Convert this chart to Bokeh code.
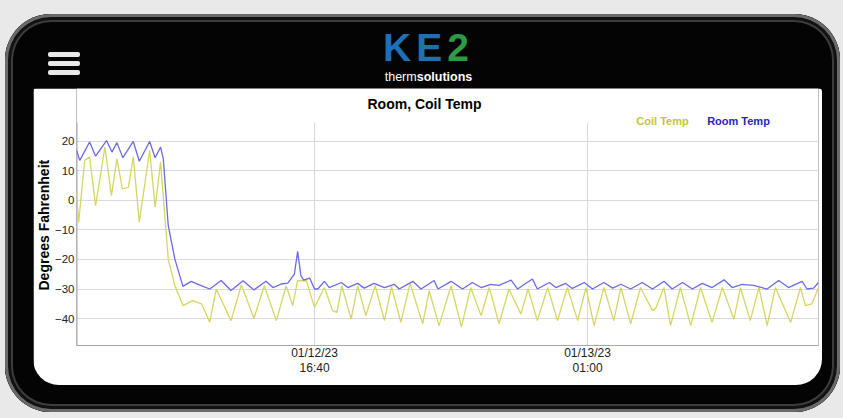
import pandas as pd
from bokeh.plotting import figure
from bokeh.models import Range1d, FixedTicker, Label, Div, Title, Spacer
from bokeh.layouts import column, row
from bokeh.embed import file_html
from bokeh.resources import INLINE

# ---------------- data ----------------
start_time = "2023-01-12 09:24"      # left edge of the plot
end_minute = 1359                    # right edge, minutes after start

room_minutes = [0, 6, 24, 35, 55, 65, 74, 85, 104, 115, 134, 144, 154, 159, 168, 180,
                195, 210, 225, 244, 265, 283, 305, 325, 347, 360, 375, 387, 399, 405,
                411, 416, 427, 436, 442, 454, 463, 485, 497, 515, 527, 545, 564, 582,
                591, 616, 631, 655, 662, 686, 707, 725, 741, 759, 774, 796, 808, 817,
                835, 844, 866, 878, 896, 908, 930, 945, 966, 982, 997, 1015, 1036,
                1055, 1076, 1091, 1110, 1128, 1146, 1164, 1186, 1201, 1219, 1240,
                1265, 1286, 1304, 1329, 1338, 1350, 1359]
room_temp = [16.9, 13.5, 19.7, 14.9, 20.2, 16.3, 19.5, 14.4, 19.9, 13.2, 19.9, 14.4,
             18.0, 14.0, -8.5, -19.8, -29.1, -27.4, -28.6, -30.0, -27.1, -30.5, -27.2,
             -30.3, -27.4, -29.5, -28.3, -28.0, -25.0, -17.3, -25.5, -27.0, -26.3,
             -30.0, -30.0, -27.4, -29.5, -27.8, -29.5, -28.1, -29.7, -28.1, -29.5,
             -28.4, -30.0, -27.4, -30.0, -27.1, -30.0, -27.4, -30.0, -27.8, -29.5,
             -28.4, -28.8, -27.0, -30.0, -28.8, -26.6, -30.0, -27.8, -29.5, -28.1,
             -29.8, -27.8, -30.0, -27.8, -29.7, -28.4, -30.0, -27.8, -30.0, -27.4,
             -30.0, -27.8, -30.0, -28.1, -29.5, -26.9, -29.5, -28.4, -28.8, -30.0,
             -27.1, -29.5, -27.4, -30.0, -29.7, -27.8]

coil_minutes = [0, 4, 15, 24, 35, 52, 64, 74, 84, 95, 104, 115, 134, 144, 154, 168,
                180, 195, 213, 229, 244, 256, 283, 302, 325, 344, 366, 384, 396, 405,
                421, 436, 454, 469, 477, 486, 503, 515, 530, 547, 564, 577, 594, 611,
                634, 646, 664, 686, 705, 722, 741, 756, 774, 792, 814, 827, 844, 863,
                881, 899, 918, 933, 948, 966, 984, 997, 1015, 1033, 1055, 1061, 1076,
                1088, 1106, 1125, 1143, 1164, 1183, 1204, 1216, 1234, 1250, 1265,
                1280, 1308, 1326, 1335, 1347, 1359]
coil_temp = [2.7, -7.4, 13.5, 14.6, -1.8, 18.0, 1.6, 14.0, 3.9, 4.4, 14.6, -7.4, 16.9,
             -2.3, 12.9, -19.8, -28.8, -35.6, -33.9, -35.0, -41.2, -30.0, -40.7, -28.6,
             -39.9, -28.9, -40.7, -28.9, -35.6, -27.2, -27.2, -36.2, -29.5, -37.3,
             -37.9, -28.9, -40.2, -28.9, -39.0, -28.9, -40.7, -29.2, -41.3, -28.1,
             -41.8, -30.6, -42.4, -28.9, -42.8, -29.5, -39.0, -29.5, -41.8, -30.0,
             -38.5, -30.0, -40.7, -29.5, -40.7, -29.5, -40.7, -29.5, -42.4, -29.5,
             -40.7, -29.5, -41.8, -29.5, -37.3, -36.5, -29.5, -42.4, -29.5, -42.4,
             -29.5, -41.3, -29.5, -40.2, -29.5, -40.7, -29.5, -42.4, -29.5, -41.3,
             -29.5, -35.6, -35.0, -29.5]

y_ticks = [20, 10, 0, -10, -20, -30, -40]
y_limits = [-49.1, 26.3]            # extent of the drawn axis / chart area
x_tick_times = ["2023-01-12 16:40", "2023-01-13 01:00"]
x_tick_labels = ["01/12/23\n16:40", "01/13/23\n01:00"]
series_names = ["Coil Temp", "Room Temp"]
title_text = "Room, Coil Temp"
y_label = "Degrees Fahrenheit"

# ---------------- styles / layout ----------------
FONT = "Liberation Sans"
COIL_LINE = "#d6d662"
ROOM_LINE = "#6a6ae4"
COIL_TEXT = "#c4c43a"
ROOM_TEXT = "#2424c8"
GRID = "#dadada"
AXIS = "#a8a8a8"
VIEW_TOP = 37.8      # headroom above the chart area, where title & legend sit

t0 = pd.Timestamp(start_time)
room_t = t0 + pd.to_timedelta(room_minutes, unit="m")
coil_t = t0 + pd.to_timedelta(coil_minutes, unit="m")
t_end = t0 + pd.Timedelta(minutes=end_minute)
tick_t = [pd.Timestamp(t) for t in x_tick_times]
tick_ms = [t.value / 1e6 for t in tick_t]

p = figure(width=789, height=297, x_axis_type="datetime",
           x_range=Range1d(t0, t_end), y_range=Range1d(y_limits[0], VIEW_TOP),
           output_backend="svg", toolbar_location=None,
           min_border_left=42, min_border_right=4, min_border_top=0,
           min_border_bottom=40, border_fill_color="white",
           background_fill_color="white")
try:
    p.title = None
except Exception:
    p.title.visible = False
p.outline_line_color = None
p.margin = (0, 0, 0, 28)
p.styles = {"border-radius": "4px 4px 26px 26px", "overflow": "hidden"}

# vertical grid lines at the two time ticks and the left axis rule,
# spanning only the chart area (not the title headroom)
p.xgrid.visible = False
p.segment(x0=tick_t, x1=tick_t, y0=[y_limits[0]] * len(tick_t),
          y1=[y_limits[1]] * len(tick_t), line_color=GRID, line_width=1)
p.segment(x0=[t0], x1=[t0], y0=[y_limits[0]], y1=[y_limits[1]],
          line_color=AXIS, line_width=2)

p.line(coil_t, coil_temp, line_color=COIL_LINE, line_width=1.3)
p.line(room_t, room_temp, line_color=ROOM_LINE, line_width=1.3)

p.xaxis.ticker = FixedTicker(ticks=tick_ms)
p.xaxis.major_label_overrides = {ms: lab for ms, lab in zip(tick_ms, x_tick_labels)}
p.yaxis.ticker = FixedTicker(ticks=y_ticks)

for ax in (p.xaxis[0], p.yaxis[0]):
    ax.major_tick_line_color = None
    ax.minor_tick_line_color = None
    ax.major_tick_out = 0
    ax.major_tick_in = 0
    ax.minor_tick_out = 0
    ax.minor_tick_in = 0
    ax.axis_label_standoff = 0
    ax.major_label_text_font = FONT
    ax.major_label_text_color = "#222222"
p.xaxis.major_label_text_font_size = "12px"
p.yaxis.major_label_text_font_size = "11.5px"
p.xaxis.axis_line_color = AXIS
p.yaxis.axis_line_color = None
p.xaxis.major_label_standoff = 0
p.xaxis.major_label_text_line_height = 1.1
p.yaxis.major_label_standoff = 2

p.ygrid.grid_line_color = GRID

p.add_layout(Title(text=y_label, align="left", offset=55, standoff=0,
                   text_font=FONT, text_font_size="14px", text_font_style="bold",
                   text_color="#000000"), "left")

p.add_layout(Label(x=348, y=242, x_units="screen", y_units="screen", text=title_text,
                   text_align="center", text_baseline="middle", text_font=FONT,
                   text_font_size="14px", text_font_style="bold", text_color="#000000"))
for name, cx, col in zip(series_names, [586, 662], [COIL_TEXT, ROOM_TEXT]):
    p.add_layout(Label(x=cx, y=225, x_units="screen", y_units="screen", text=name,
                       text_align="center", text_baseline="middle", text_font=FONT,
                       text_font_size="11px", text_font_style="bold", text_color=col))

# ---------------- phone header ----------------
bar = ("position:absolute;left:43px;width:32px;height:5px;background:#e8e8e8;"
       "border-radius:2px;")
header_html = f"""
<div style="position:relative;width:835px;height:74px;">
  <div style="{bar}top:38px;"></div>
  <div style="{bar}top:47px;"></div>
  <div style="{bar}top:56px;"></div>
  <div style="position:absolute;left:374px;top:19px;width:99px;height:30px;text-align:center;
       font-family:'Liberation Sans',Arial;font-weight:bold;font-size:39px;line-height:30px;
       letter-spacing:5px;"><span style="color:#1d6fb6">KE</span><span style="color:#2c9a46">2</span></div>
  <div style="position:absolute;left:374px;top:57px;width:99px;height:13px;text-align:center;
       font-family:'Liberation Sans',Arial;font-size:12.5px;line-height:13px;color:#ffffff;">therm<b>solutions</b></div>
</div>
"""
header = Div(text=header_html, width=835, height=74, margin=(0, 0, 0, 0))

phone = column(header, p, width=835, height=398,
               styles={"background-color": "#040404", "border-radius": "46px",
                       "box-shadow": "inset 0 0 0 3px #6a6a6a, inset 0 0 0 6px #121212, "
                                     "inset 0 0 0 8px #3c3c3c"})

page = column(Spacer(width=843, height=14), row(Spacer(width=5, height=398), phone),
              width=843, height=418, styles={"background-color": "#e9e9e9"})

open("out.html", "w").write(file_html(page, INLINE, title="Room, Coil Temp"))
